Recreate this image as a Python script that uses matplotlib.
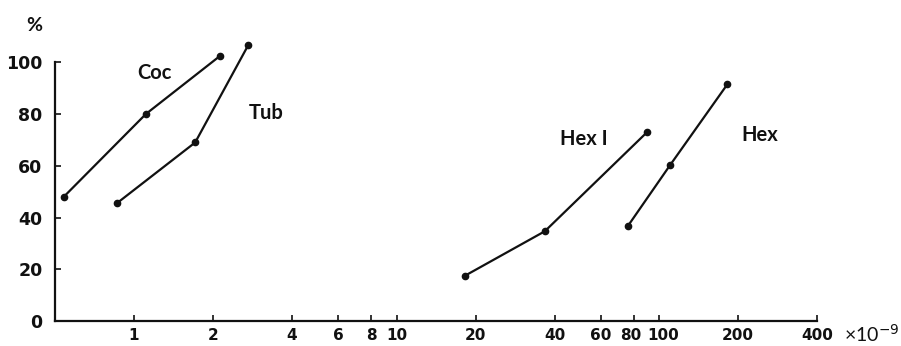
import matplotlib
matplotlib.use("Agg")
import matplotlib.pyplot as plt
from matplotlib.transforms import ScaledTranslation

FONT = ["Lato", "DejaVu Sans"]
TICKFONT = ["DejaVu Sans"]
INK = "#111111"

coc_x = [0.54, 1.11, 2.13]
coc_y = [48, 80, 102.5]
tub_x = [0.86, 1.71, 2.72]
tub_y = [45.5, 69, 106.5]
hex1_x = [18.2, 36.7, 90]
hex1_y = [17.5, 34.7, 73]
hex_x = [76, 110, 182]
hex_y = [36.7, 60.2, 91.5]

xticks = [1, 2, 4, 6, 8, 10, 20, 40, 60, 80, 100, 200, 400]
yticks = [0, 20, 40, 60, 80, 100]

fig = plt.figure(figsize=(9.01, 3.46), dpi=100)
ax = fig.add_axes([0.061, 0.072, 0.846, 0.808])

for xs, ys in [(coc_x, coc_y), (tub_x, tub_y), (hex1_x, hex1_y), (hex_x, hex_y)]:
    ax.plot(xs, ys, color=INK, lw=1.6, marker="o", ms=4.5, clip_on=False)

ax.set_xscale("log")
ax.set_xlim(0.5, 400)
ax.set_ylim(0, 108)

ax.set_xticks(xticks)
ax.set_xticklabels([str(t) for t in xticks])
ax.minorticks_off()
ax.set_yticks(yticks)

for s in ["top", "right"]:
    ax.spines[s].set_visible(False)
ax.spines["left"].set_bounds(0, 100)
for s in ["left", "bottom"]:
    ax.spines[s].set_linewidth(1.6)
    ax.spines[s].set_color(INK)

ax.tick_params(direction="in", length=4, width=1.2, color=INK, labelcolor=INK)
ax.tick_params(axis="x", pad=5)
ax.tick_params(axis="y", pad=9)
for lab in ax.get_xticklabels():
    lab.set_family(TICKFONT)
    lab.set_weight("bold")
    lab.set_size(11)
for lab in ax.get_yticklabels():
    lab.set_family(TICKFONT)
    lab.set_weight("bold")
    lab.set_size(12.5)

# crowded labels near 80/100: nudge apart a little like the original
shifts = {"80": -2, "100": 3}
for lab in ax.get_xticklabels():
    if lab.get_text() in shifts:
        dx = shifts[lab.get_text()] / 72
        lab.set_transform(lab.get_transform() + ScaledTranslation(dx, 0, fig.dpi_scale_trans))

labels = [("Coc", 1.2, 95.8), ("Tub", 3.2, 80.3), ("Hex I", 51.7, 70.3), ("Hex", 241, 71.8)]
for txt, x, y in labels:
    ax.text(x, y, txt, family=FONT, weight="bold", size=14.5, color=INK,
            ha="center", va="center")

fig.text(0.029, 0.925, "%", family=FONT, weight="bold", size=14, color=INK,
         ha="left", va="center")
fig.text(0.937, 0.035, "×10$^{-9}$", family=FONT, size=14, color=INK,
         ha="left", va="center")

fig.savefig("out.png", dpi=100)
